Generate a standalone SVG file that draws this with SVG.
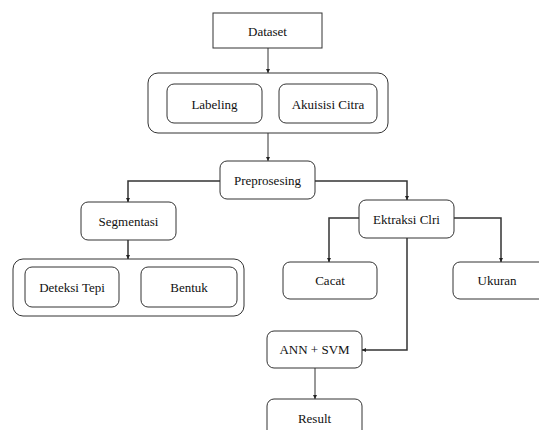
<svg xmlns="http://www.w3.org/2000/svg" width="539" height="430" viewBox="0 0 539 430">
<defs>
<marker id="ah" viewBox="0 0 8 8" refX="8" refY="4" markerWidth="4" markerHeight="4" orient="auto" markerUnits="userSpaceOnUse">
<path d="M0,0 L8,4 L0,8 z" fill="#222"/>
</marker>
<style>
.b{fill:#fff;stroke:#333;stroke-width:1}
.t{font-family:"Liberation Serif","Times New Roman",serif;font-size:13px;fill:#111;text-anchor:middle;dominant-baseline:central}
.c{fill:none;stroke:#333;stroke-width:1.5;marker-end:url(#ah)}
.c1{fill:none;stroke:#333;stroke-width:1;marker-end:url(#ah)}
</style>
</defs>
<rect width="539" height="430" fill="#fff"/>
<g id="connectors">
<path class="c1" d="M268,48 V73"/>
<path class="c1" d="M268,133 V161"/>
<path class="c" d="M220,181 H128 V202"/>
<path class="c" d="M128,240 V259"/>
<path class="c" d="M315,181 H407 V200"/>
<path class="c" d="M359,218 H329 V262"/>
<path class="c" d="M454,218 H501 V262"/>
<path class="c" d="M407,238 V350 H362"/>
<path class="c1" d="M315,368 V399"/>
</g>
<g id="dataset"><rect class="b" x="213" y="13" width="109" height="35"/><text class="t" x="267.5" y="31">Dataset</text></g>
<g id="group1"><rect class="b" x="148" y="73" width="240" height="60" rx="10"/></g>
<g id="labeling"><rect class="b" x="167" y="84" width="95" height="39" rx="7"/><text class="t" x="214.5" y="104">Labeling</text></g>
<g id="akuisisi"><rect class="b" x="279" y="84" width="98" height="39" rx="7"/><text class="t" x="328" y="104">Akuisisi Citra</text></g>
<g id="preprosesing"><rect class="b" x="220" y="161" width="95" height="38" rx="7"/><text class="t" x="267.5" y="180.5">Preprosesing</text></g>
<g id="segmentasi"><rect class="b" x="81" y="202" width="95" height="38" rx="7"/><text class="t" x="128.5" y="221">Segmentasi</text></g>
<g id="group2"><rect class="b" x="13" y="259" width="231" height="57" rx="10"/></g>
<g id="deteksi"><rect class="b" x="25" y="267" width="94" height="40" rx="7"/><text class="t" x="72" y="287">Deteksi Tepi</text></g>
<g id="bentuk"><rect class="b" x="141" y="267" width="96" height="40" rx="7"/><text class="t" x="189" y="287">Bentuk</text></g>
<g id="ektraksi"><rect class="b" x="359" y="200" width="95" height="38" rx="7"/><text class="t" x="406.5" y="219">Ektraksi Clri</text></g>
<g id="cacat"><rect class="b" x="283" y="262" width="94" height="37" rx="7"/><text class="t" x="330" y="280.5">Cacat</text></g>
<g id="ukuran"><rect class="b" x="453" y="262" width="95" height="37" rx="7"/><text class="t" x="497" y="280.5">Ukuran</text></g>
<g id="ann"><rect class="b" x="267" y="331" width="95" height="37" rx="7"/><text class="t" x="314.5" y="349.5">ANN + SVM</text></g>
<g id="result"><rect class="b" x="267" y="399" width="95" height="40" rx="7"/><text class="t" x="314.5" y="418">Result</text></g>
</svg>
